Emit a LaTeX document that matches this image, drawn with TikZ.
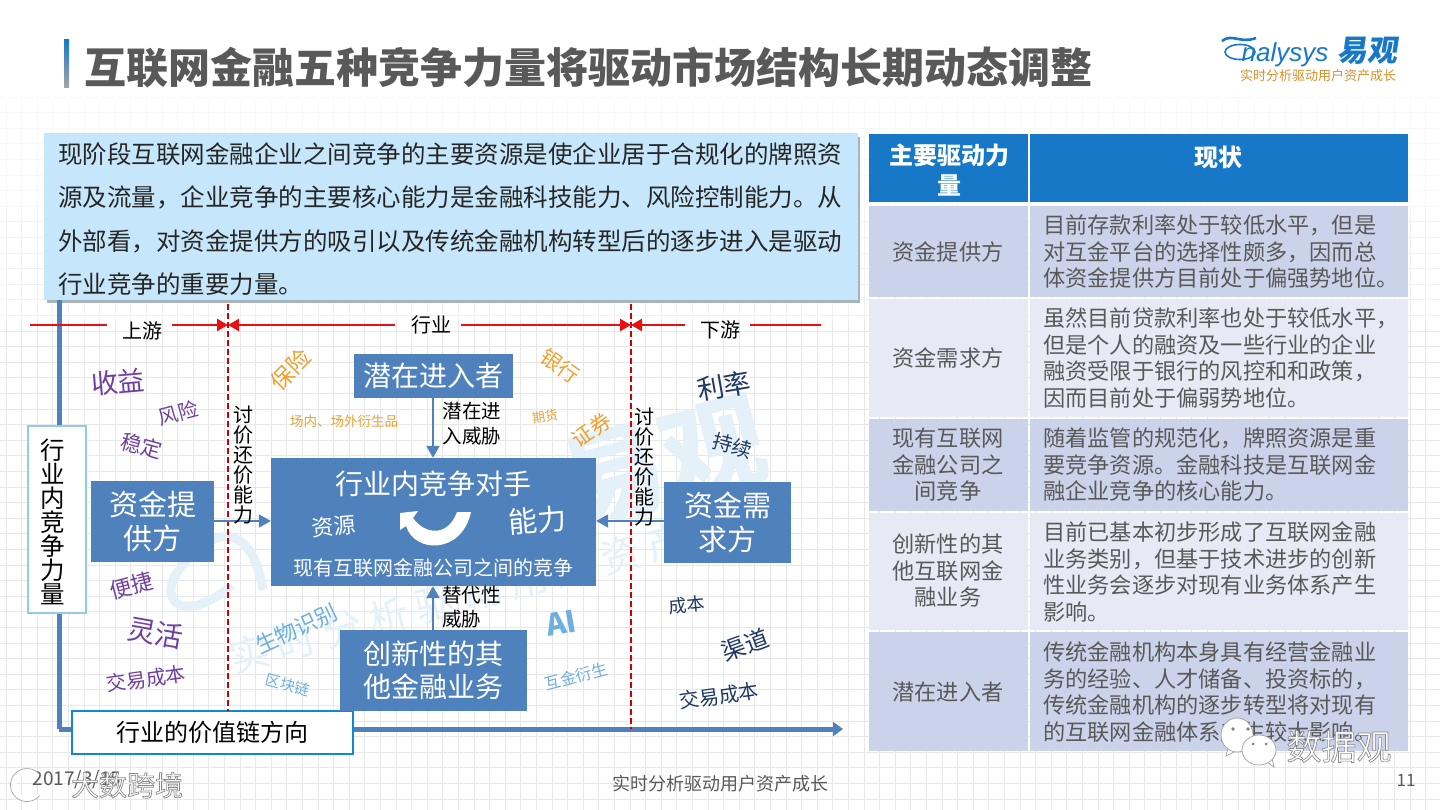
\documentclass[tikz,border=0pt]{standalone}
\usepackage{fontspec}
\setmainfont{Noto Sans CJK SC}
\setsansfont{Noto Sans CJK SC}
\newfontfamily\logofont{Liberation Sans}
\newfontfamily\slantcjk[FakeSlant=0.15]{Noto Sans CJK SC}
\usetikzlibrary{arrows.meta}
\definecolor{bluebox}{HTML}{4F81BD}
\definecolor{headblue}{HTML}{1878C8}
\definecolor{rowdark}{HTML}{CBD3EA}
\definecolor{rowlight}{HTML}{E7EAF5}
\definecolor{tgray}{HTML}{595959}
\definecolor{purp}{HTML}{7040A0}
\definecolor{orng}{HTML}{F0A030}
\definecolor{navy}{HTML}{1F3864}
\definecolor{lblue}{HTML}{6DB0E0}
\definecolor{wm}{HTML}{E4F1F9}
\definecolor{gridc}{HTML}{E8E8E8}
\definecolor{gridm}{HTML}{F1F1F1}
\definecolor{gridt}{HTML}{F8F8F8}
\definecolor{redl}{HTML}{E81010}
\definecolor{boxedge}{HTML}{92CDDC}
\definecolor{sumfill}{HTML}{C6E7FB}
\definecolor{sumshadow}{HTML}{A8B4BC}
\newcommand{\fsz}[2]{\fontsize{#1pt}{#2pt}\selectfont}
\newcommand{\outl}[1]{\special{pdf:code q 2 Tr 0.7 w 0.55 G}#1\special{pdf:code Q}}
\tikzset{
  x=1pt,y=-1pt,
  word/.style={inner sep=0pt,text depth=0pt},
  pw/.style={word,text=purp},
  ow/.style={word,text=orng},
  nw/.style={word,text=navy},
  lw/.style={word,text=lblue},
  bluenode/.style={fill=bluebox,text=white,inner sep=0pt,align=center},
  cell/.style={inner sep=0pt,text=tgray,align=left,anchor=west,font=\fsz{22.2}{26.5}},
  hcell/.style={inner sep=0pt,text=tgray,align=center,font=\fsz{22.2}{26.5}},
  flow/.style={bluebox,line width=2pt,-{Triangle[length=12pt,width=13pt]}},
  redflow/.style={redl,line width=2.5pt,-{Triangle[length=11pt,width=12pt]}},
  redplain/.style={redl,line width=2.5pt},
  divider/.style={red!80!black,line width=1.2pt,dash pattern=on 6pt off 3pt},
  label/.style={inner sep=0pt,text=black,align=center},
}
\begin{document}
\begin{tikzpicture}
\useasboundingbox (0,0) rectangle (1440,810);
\fill[white] (0,0) rectangle (1440,810);
% grid, fading out towards the top
\foreach \i in {0,...,92} {
  \draw[gridt,line width=0.9pt] ({\i*15.6+6},100) -- ({\i*15.6+6},210);
  \draw[gridm,line width=0.9pt] ({\i*15.6+6},210) -- ({\i*15.6+6},320);
  \draw[gridc,line width=0.9pt] ({\i*15.6+6},320) -- ({\i*15.6+6},810);}
\foreach \j in {0,...,46} {
  \pgfmathsetmacro{\yy}{\j*15.6+97}
  \pgfmathparse{\yy<210?"gridt":(\yy<320?"gridm":"gridc")}
  \edef\gc{\pgfmathresult}
  \draw[\gc,line width=0.9pt] (0,\yy) -- (1440,\yy);}
% watermarks
\node[word,text=wm,rotate=15,font=\fsz{104}{104}\bfseries] (wmyiguan) at (662,458) {易观};
\node[word,text=wm,rotate=15,font=\fsz{40}{40}\addfontfeature{LetterSpace=20}] (wmtag) at (458,596) {实时分析驱动用户资产};
\draw[wm,line width=9pt] (263,590) .. controls (255,540) and (230,525) .. (205,545) .. controls (175,565) and (160,595) .. (180,605) .. controls (195,610) and (215,600) .. (232,585);
% title
\shade[top color=headblue,bottom color=gray!70] (64,40) rectangle (69,88);
\node[word,anchor=west,text=tgray,font=\fsz{42}{46}\bfseries] (title) at (84,65) {互联网金融五种竞争力量将驱动市场结构长期动态调整};
% logo
\draw[headblue,line width=1.6pt] (1240,52) ellipse (15 and 7.5);
\draw[headblue,line width=2.6pt] (1222,41) .. controls (1232,33) and (1240,44) .. (1256,38);
\node[word,text=headblue,font=\fsz{26}{26}\logofont\itshape] (lognaly) at (1285,52) {nalysys};
\node[word,text=headblue,font=\fsz{30}{30}\slantcjk\bfseries] (logyi) at (1367,49) {易观};
\node[word,text=orng!90!black,font=\fsz{13}{13}] (logtag) at (1318,75) {实时分析驱动用户资产成长};
% summary box
\fill[sumshadow] (47,137) rectangle (860,303);
\fill[sumfill] (44,133) rectangle (858,300);
\node[inner sep=0pt,anchor=west,align=left,text=black!85,font=\fsz{24.5}{43.3}] (summary) at (58,219)
 {现阶段互联网金融企业之间竞争的主要资源是使企业居于合规化的牌照资\\
  源及流量，企业竞争的主要核心能力是金融科技能力、风险控制能力。从\\
  外部看，对资金提供方的吸引以及传统金融机构转型后的逐步进入是驱动\\
  行业竞争的重要力量。};
% table
\fill[headblue] (869,134) rectangle (1028,202);
\fill[headblue] (1030,134) rectangle (1408,202);
\node[word,text=white,align=center,font=\fsz{24}{30}\bfseries] (h1) at (949,169) {主要驱动力\\量};
\node[word,text=white,font=\fsz{24}{30}\bfseries] (h2) at (1218,156) {现状};
\fill[rowdark] (869,206) rectangle (1028,297); \fill[rowdark] (1030,206) rectangle (1408,297);
\fill[rowlight] (869,299) rectangle (1028,417); \fill[rowlight] (1030,299) rectangle (1408,417);
\fill[rowdark] (869,419) rectangle (1028,511); \fill[rowdark] (1030,419) rectangle (1408,511);
\fill[rowlight] (869,513) rectangle (1028,630); \fill[rowlight] (1030,513) rectangle (1408,630);
\fill[rowdark] (869,632) rectangle (1028,751); \fill[rowdark] (1030,632) rectangle (1408,751);
\node[hcell] (r1a) at (948,252) {资金提供方};
\node[hcell] (r2a) at (948,358) {资金需求方};
\node[hcell] (r3a) at (948,465) {现有互联网\\金融公司之\\间竞争};
\node[hcell] (r4a) at (948,571) {创新性的其\\他互联网金\\融业务};
\node[hcell] (r5a) at (948,692) {潜在进入者};
\node[cell] (r1b) at (1043,252) {目前存款利率处于较低水平，但是\\对互金平台的选择性颇多，因而总\\体资金提供方目前处于偏强势地位。};
\node[cell] (r2b) at (1043,358) {虽然目前贷款利率也处于较低水平，\\但是个人的融资及一些行业的企业\\融资受限于银行的风控和和政策，\\因而目前处于偏弱势地位。};
\node[cell] (r3b) at (1043,465) {随着监管的规范化，牌照资源是重\\要竞争资源。金融科技是互联网金\\融企业竞争的核心能力。};
\node[cell] (r4b) at (1043,572) {目前已基本初步形成了互联网金融\\业务类别，但基于技术进步的创新\\性业务会逐步对现有业务体系产生\\影响。};
\node[cell] (r5b) at (1043,692) {传统金融机构本身具有经营金融业\\务的经验、人才储备、投资标的，\\传统金融机构的逐步转型将对现有\\的互联网金融体系产生较大影响。};
% value-chain axes
\coordinate (axtop) at (59,300);
\coordinate (axcorner) at (59,729);
\coordinate (axend) at (843,729);
\draw[bluebox,line width=5pt] (axtop) -- (axcorner) ;
\draw[bluebox,line width=5pt,-{Triangle[length=10pt,width=14pt,sep=0pt]},line join=miter] (axcorner) -- (axend);
\node[draw=boxedge,line width=1.2pt,fill=white,minimum width=58pt,minimum height=187pt,inner sep=0pt] (vbox) at (57,519.5) {};
\node[label,font=\fsz{24.5}{24}] (vtext) at (53,522) {行\\业\\内\\竞\\争\\力\\量};
\node[draw=cyan!70!blue,line width=1.3pt,fill=white,minimum width=281pt,minimum height=43pt,inner sep=0pt,font=\fsz{24}{24}] (hbox) at (212.5,732.5) {行业的价值链方向};
% dividers
\coordinate (d1t) at (228,304); \coordinate (d1b) at (228,711);
\coordinate (d2t) at (631,304); \coordinate (d2b) at (631,729);
\draw[divider] (d1t) -- (d1b);
\draw[divider] (d2t) -- (d2b);
% red segments
\coordinate (ra) at (30,325); \coordinate (rb) at (107,325);
\coordinate (rc) at (172,325); \coordinate (rd) at (228,325);
\coordinate (re) at (395,325); \coordinate (rf) at (461,325);
\coordinate (rg) at (631,325); \coordinate (rh) at (685,325);
\coordinate (ri) at (750,325); \coordinate (rj) at (821,325);
\draw[redplain] (ra) -- (rb);
\draw[redflow] (rc) -- (rd);
\draw[redflow] (re) -- (rd);
\draw[redflow] (rf) -- (rg);
\draw[redflow] (rh) -- (rg);
\draw[redplain] (ri) -- (rj);
\node[label,font=\fsz{20}{20}] (up) at (142,331) {上游};
\node[label,font=\fsz{20}{20}] (mid) at (431,325) {行业};
\node[label,font=\fsz{20}{20}] (down) at (720,330) {下游};
% blue nodes
\node[bluenode,minimum width=123pt,minimum height=81pt,font=\fsz{29}{34}] (supply) at (152.5,521.5) {资金提\\供方};
\node[bluenode,minimum width=159pt,minimum height=44pt,font=\fsz{28}{30}] (entrant) at (433.5,376) {潜在进入者};
\node[bluenode,minimum width=325pt,minimum height=128pt] (core) at (433.5,522) {};
\node[bluenode,minimum width=127pt,minimum height=81pt,font=\fsz{29}{34}] (demand) at (727.5,522.5) {资金需\\求方};
\node[bluenode,minimum width=187pt,minimum height=81pt,font=\fsz{28}{33}] (innov) at (433.5,670.5) {创新性的其\\他金融业务};
\node[word,text=white,font=\fsz{28}{28}] (corettl) at (433,483) {行业内竞争对手};
\node[word,text=white,rotate=5,font=\fsz{22}{22}] (res) at (334,525) {资源};
\node[word,text=white,rotate=5,font=\fsz{29}{29}] (cap) at (537,519) {能力};
\node[word,text=white,font=\fsz{20}{20}] (corebtm) at (433,567) {现有互联网金融公司之间的竞争};
\fill[white] (400,513) -- (418,511) -- (413,518) .. controls (425,535) and (448,537) .. (457,512) -- (471,512)
   .. controls (462,554) and (415,554) .. (406,526) -- (400,530) -- cycle;
% arrows
\draw[flow] (supply.east |- 0,521) -- (core.west |- 0,521);
\draw[flow] (demand.west |- 0,521) -- (core.east |- 0,521);
\draw[flow] (entrant.south -| 433,0) -- (core.north -| 433,0);
\draw[flow] (innov.north -| 433,0) -- (core.south -| 433,0);
% arrow labels
\node[label,font=\fsz{20}{20}] (bar1) at (243,465) {讨\\价\\还\\价\\能\\力};
\node[label,font=\fsz{20}{20}] (bar2) at (644,467) {讨\\价\\还\\价\\能\\力};
\node[label,align=left,font=\fsz{19.5}{25}] (threat1) at (472,424) {潜在进\\入威胁};
\node[label,align=left,anchor=west,font=\fsz{19.5}{24}] (threat2) at (442,607) {替代性\\威胁};
% purple words
\node[pw,rotate=5,font=\fsz{27}{27}] (w1) at (118,381) {收益};
\node[pw,rotate=15,font=\fsz{20}{20}] (w2) at (178,412) {风险};
\node[pw,rotate=-15,font=\fsz{21}{21}] (w3) at (142,445) {稳定};
\node[pw,rotate=15,font=\fsz{22}{22}] (w4) at (131,585) {便捷};
\node[pw,rotate=-10,font=\fsz{28}{28}] (w5) at (156,632) {灵活};
\node[pw,rotate=8,font=\fsz{20}{20}] (w6) at (146,678) {交易成本};
% orange words
\node[ow,rotate=45,font=\fsz{23}{23}] (o1) at (290,369) {保险};
\node[ow,font=\fsz{13.5}{13}] (o2) at (344,421) {场内、场外衍生品};
\node[ow,rotate=-35,font=\fsz{21}{21}] (o3) at (561,365) {银行};
\node[ow,rotate=10,font=\fsz{13}{13}] (o4) at (545,416) {期货};
\node[ow,rotate=35,font=\fsz{21}{21}] (o5) at (591,429) {证券};
% navy words
\node[nw,rotate=10,font=\fsz{27}{27}] (n1) at (724,385) {利率};
\node[nw,rotate=-15,font=\fsz{20}{20}] (n2) at (733,445) {持续};
\node[nw,rotate=5,font=\fsz{18}{18}] (n3) at (687,604) {成本};
\node[nw,rotate=20,font=\fsz{24}{24}] (n4) at (745,644) {渠道};
\node[nw,rotate=8,font=\fsz{20}{20}] (n5) at (719,695) {交易成本};
% light blue words
\node[lw,rotate=25,font=\fsz{22}{22}] (l1) at (296,628) {生物识别};
\node[lw,rotate=-15,font=\fsz{15}{15}] (l2) at (288,684) {区块链};
\node[lw,rotate=10,font=\fsz{30}{30}\bfseries] (l3) at (561,623) {AI};
\node[lw,rotate=15,font=\fsz{16}{16}] (l4) at (576,676) {互金衍生};
% footer
\node[word,text=tgray,font=\fsz{19}{19}] (date) at (77,778) {2017/3/15};
\node[word,text=tgray,font=\fsz{18}{18}] (foot) at (720,783) {实时分析驱动用户资产成长};
\node[word,text=tgray,font=\fsz{17}{17}] (pg) at (1406,780) {11};
\draw[white,line width=5pt] (37.7,794) arc (40:320:14);
\draw[gray!70,line width=0.7pt] (39.6,795.6) arc (40:320:16.5);
\node[word,text=white,font=\fsz{28}{28}] (cross) at (127,784) {\outl{大数跨境}};
% wechat bubbles
\filldraw[fill=white,draw=gray!70,line width=0.8pt] (1228,748) -- (1226,756) -- (1236,751) -- cycle;
\filldraw[fill=white,draw=gray!70,line width=0.8pt] (1237,735) ellipse (16 and 17);
\filldraw[fill=white,draw=gray!70,line width=0.8pt] (1267,762) -- (1274,767) -- (1272,758) -- cycle;
\filldraw[fill=white,draw=gray!70,line width=0.8pt] (1259,750) ellipse (17 and 15);
\fill[gray] (1233,729) circle (1.8); \fill[gray] (1248,729) circle (1.8);
\fill[gray] (1253,744) circle (1.5); \fill[gray] (1266,744) circle (1.5);
\node[word,text=white,font=\fsz{35}{35}] (wx) at (1339,745) {\outl{数据观}};
\end{tikzpicture}
\end{document}
